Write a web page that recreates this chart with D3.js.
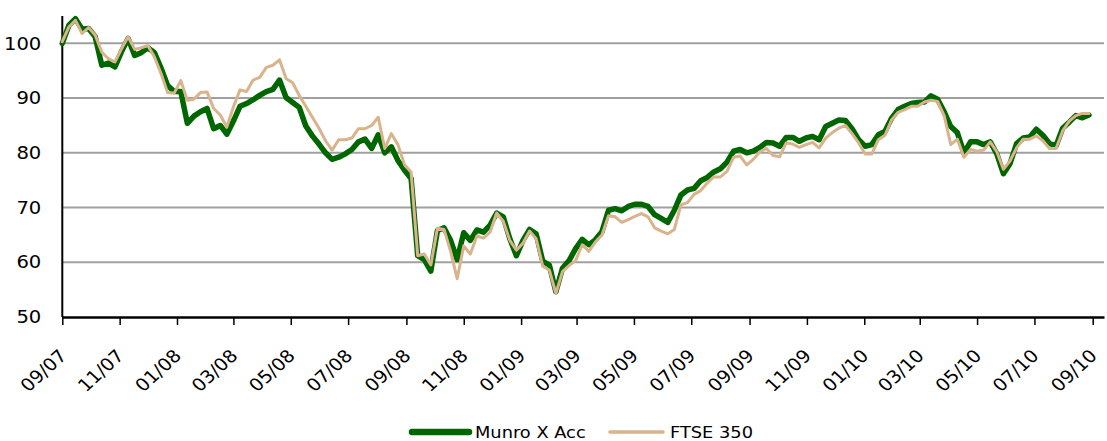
<!DOCTYPE html>
<html><head><meta charset="utf-8">
<script src="https://cdn.jsdelivr.net/npm/d3@7"></script>
<style>html,body{margin:0;padding:0;background:#fff;}svg{display:block;}</style>
</head><body>
<svg id="chart" width="1107" height="441"></svg>
<script>
// Weekly observations starting 1 Sep 2007
const startDate = "2007-09-01";
const seriesNames = ["Munro X Acc", "FTSE 350"];
const munro = [
100,103.3,104.5,102.6,102.7,101.2,96,96.4,95.7,98.5,100.9,97.8,98.3,99.2,98.3,95.5,92.3,91.2,91.2,85.4,
86.7,87.5,88.1,84.4,85,83.4,85.8,88.5,89,89.7,90.5,91.2,91.6,93.3,90.1,89.2,88.3,84.9,83.1,81.6,
80,78.8,79.2,79.8,80.6,82,82.5,80.8,83.3,80,81.1,78.6,76.8,75.3,61.2,60.5,58.4,65.8,66.3,64,
60.5,65.4,64,65.9,65.5,66.8,69,68.3,64.3,61.2,64,66,65.2,60.2,59.5,54.6,58.9,60.3,62.5,64.2,
63.2,64.1,65.6,69.5,69.8,69.4,70.2,70.6,70.6,70.2,68.7,68,67.3,69.5,72.3,73.2,73.5,74.9,75.5,76.5,
77.1,78.3,80.3,80.6,80,80.3,81,81.9,81.8,81.2,82.8,82.8,82.1,82.7,83,82.4,84.8,85.4,86,85.9,
84.4,82.4,81.2,81.5,83.3,83.9,86.3,87.9,88.5,89,89.2,89.3,90.4,89.8,87.5,84.8,83.7,80,82,82,
81.5,82,79.8,76.2,78,81.7,82.7,82.9,84.3,83.2,81.7,81.3,84.5,85.6,86.8,86.4,86.9];
const ftse = [
100.3,103,104.2,101.8,102.9,101.5,98.4,97.2,96.6,99,101.2,98.9,99.2,99.6,97.5,94.5,91,90.9,93.2,89.6,
89.8,91,91.1,88.1,86.9,84.7,88.4,91.5,91.2,93.3,93.8,95.6,96,97,93.6,92.8,90.5,88.5,86.5,84.5,
82.2,80.5,82.4,82.4,82.7,84.4,84.4,85,86.5,80.8,83.5,81.5,77.8,76.5,61.2,61.5,59.5,66.2,66,62,
57,63,61.5,64.8,64.4,65.5,69,67.5,64,62.2,63.5,65.7,64.3,59.3,58.6,54.3,58.3,59.4,60.3,63.2,
62,63.7,65,68.5,68.3,67.3,67.8,68.4,68.9,68.3,66.3,65.7,65.2,66,70.5,70.9,72.4,73.1,74.5,75.6,
75.6,76.6,79.2,79.4,77.8,78.8,80.2,80.8,79.5,79.3,81.8,81.6,81,81.5,81.9,80.9,82.7,83.7,84.5,85,
83.5,81.8,79.8,79.8,82.4,83.2,86,87.4,87.9,88.5,88.5,89.3,89.6,89.4,86.8,81.5,82.5,79.2,80.6,80.3,
80.5,82,80.2,77,78.5,80.9,82.5,82.5,83.1,82.2,80.8,80.8,84,85.8,86.8,87.2,87.2];
const yTicks = [50, 60, 70, 80, 90, 100];
const xTickLabels = ["09/07","11/07","01/08","03/08","05/08","07/08","09/08","11/08","01/09","03/09",
  "05/09","07/09","09/09","11/09","01/10","03/10","05/10","07/10","09/10"];

(function () {
const parse = d3.timeParse("%Y-%m-%d");
const parseTick = d3.timeParse("%m/%y");
const t0 = parse(startDate);
const dates = munro.map((_, i) => d3.timeDay.offset(t0, 7 * i));
const tickDates = xTickLabels.map(s => parseTick(s));

const svg = d3.select("#chart");
const mLeft = 62.3, mRight = 1104, mTop = 16, mBottom = 317;
const font = "'DejaVu Sans', sans-serif";
const stretch = 1.1;

const x = d3.scaleTime().domain([t0, parse("2010-09-13")]).range([mLeft, mRight]);
const y = d3.scaleLinear().domain([50, 105]).range([mBottom, mTop]);

// gridlines
svg.append("g").selectAll("line").data(yTicks.filter(v => v > 50)).join("line")
  .attr("x1", mLeft).attr("x2", mRight)
  .attr("y1", d => y(d)).attr("y2", d => y(d))
  .attr("stroke", "#a0a0a0").attr("stroke-width", 2);

// y axis
const yAxis = svg.append("g").attr("transform", `translate(${mLeft},0)`)
  .call(d3.axisLeft(y).tickValues(yTicks).tickSize(0).tickPadding(21));
yAxis.select(".domain").remove();
yAxis.selectAll("text").attr("font-family", font).attr("font-size", 17.8).attr("fill", "#000")
  .attr("x", -21 / stretch).attr("transform", `scale(${stretch},1)`);
svg.append("line").attr("x1", mLeft).attr("x2", mLeft).attr("y1", mTop).attr("y2", mBottom)
  .attr("stroke", "#000").attr("stroke-width", 2);

// x axis
const xAxis = svg.append("g").attr("transform", `translate(0,${mBottom})`)
  .call(d3.axisBottom(x).tickValues(tickDates).tickFormat(d3.timeFormat("%m/%y")).tickSize(8).tickSizeOuter(0));
xAxis.select(".domain").attr("stroke", "#000").attr("stroke-width", 2.5);
xAxis.selectAll(".tick line").attr("stroke", "#000").attr("stroke-width", 1.5);
xAxis.selectAll("text")
  .attr("font-family", font).attr("font-size", 17.5).attr("fill", "#000")
  .attr("text-anchor", "end")
  .attr("x", 0).attr("y", 0).attr("dy", 0)
  .attr("transform", `translate(5,40) scale(${stretch},1) rotate(-45)`);

// lines
const line = d3.line().x((d, i) => x(dates[i])).y(d => y(d)).curve(d3.curveLinear);
svg.append("path").datum(munro).attr("d", line)
  .attr("fill", "none").attr("stroke", "#006600").attr("stroke-width", 5.5)
  .attr("stroke-linejoin", "round").attr("stroke-linecap", "round");
svg.append("path").datum(ftse).attr("d", line)
  .attr("fill", "none").attr("stroke", "#D9B38C").attr("stroke-width", 3)
  .attr("stroke-linejoin", "round").attr("stroke-linecap", "round");

// legend
const legend = svg.append("g");
const items = [
  {name: seriesNames[0], color: "#006600", w: 6.5, x1: 412, x2: 469, tx: 475},
  {name: seriesNames[1], color: "#D9B38C", w: 3.5, x1: 610, x2: 663, tx: 670}
];
const ly = 432, lStretch = 1.08;
items.forEach(it => {
  legend.append("line").attr("x1", it.x1).attr("x2", it.x2).attr("y1", ly).attr("y2", ly)
    .attr("stroke", it.color).attr("stroke-width", it.w).attr("stroke-linecap", "round");
  legend.append("text").attr("x", it.tx / lStretch).attr("y", 438.5)
    .attr("transform", `scale(${lStretch},1)`)
    .attr("font-family", font).attr("font-size", 16.5).attr("fill", "#000").text(it.name);
});
})();
</script>
</body></html>
